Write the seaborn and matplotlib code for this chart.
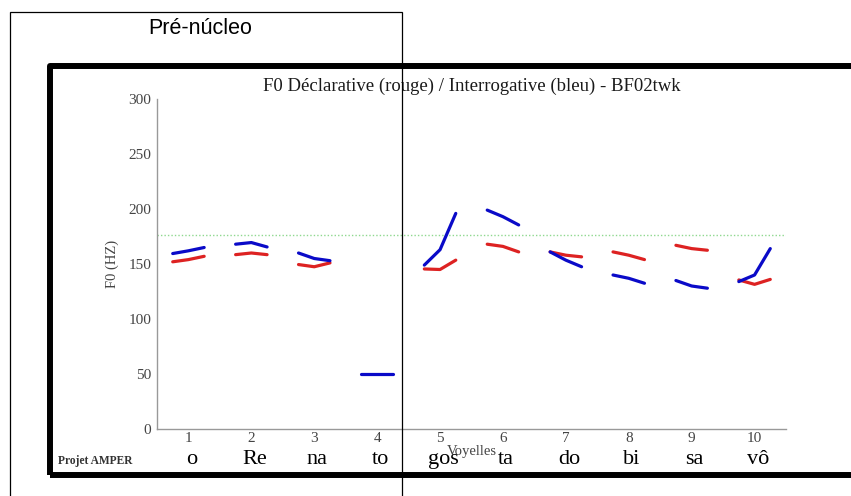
import numpy as np
import pandas as pd
import matplotlib
matplotlib.use("Agg")
import matplotlib.pyplot as plt
from matplotlib.patches import Rectangle
import seaborn as sns

# F0 contours per vowel, three samples each (start / middle / end of the vowel)
vowels = [1, 2, 3, 4, 5, 6, 7, 8, 9, 10]
syllables = ["o", "Re", "na", "to", "gos", "ta", "do", "bi", "sa", "vô"]
sample_offsets = [-0.25, 0.0, 0.25]

f0_declarative = [
    [152, 154, 157],
    [158.5, 160, 158.5],
    [149.5, 147.5, 151],
    None,
    [145.5, 145, 153.5],
    [168, 166, 161],
    [161, 158, 156.5],
    [161, 158, 154],
    [167, 164, 162.5],
    [135.5, 131.5, 136],
]
f0_interrogative = [
    [159.5, 162, 165],
    [168, 169.5, 165.5],
    [160, 155, 153],
    [50, 50, 50],
    [149, 163, 196],
    [199, 193, 185.5],
    [161, 153.5, 147.5],
    [140, 137, 132.5],
    [135, 130, 128],
    [134, 140, 164],
]
reference_f0 = 176
yticks = [0, 50, 100, 150, 200, 250, 300]

# long format table for seaborn
rows = []
for label, series in [("Déclarative", f0_declarative), ("Interrogative", f0_interrogative)]:
    for v, vals in zip(vowels, series):
        if vals is None:
            continue
        for off, f in zip(sample_offsets, vals):
            rows.append({"vowel": v, "pos": v + off, "f0": f, "type": label})
df = pd.DataFrame(rows)

sns.set_theme(style="white")
plt.rcParams["font.family"] = ["Liberation Serif", "DejaVu Serif"]

W, H = 851, 496
fig = plt.figure(figsize=(W / 100, H / 100), dpi=100)
fig.patch.set_facecolor("white")

ax_left, ax_right, ax_top, ax_bottom = 157, 786, 99, 429
ax = fig.add_axes([ax_left / W, 1 - ax_bottom / H,
                   (ax_right - ax_left) / W, (ax_bottom - ax_top) / H])
ax.patch.set_alpha(0)

ax.axhline(reference_f0, color="#8fd88f", ls=(0, (1, 1.5)), lw=1, zorder=1)

sns.lineplot(data=df, x="pos", y="f0", hue="type", units="vowel", estimator=None,
             palette={"Déclarative": "#dd2222", "Interrogative": "#0a0ac8"},
             hue_order=["Déclarative", "Interrogative"],
             sort=False, linewidth=2.3, legend=False, ax=ax, zorder=3)

ax.set_xlim(0.5, 10.5)
ax.set_ylim(0, 300)
ax.set_xticks(vowels)
ax.set_yticks(yticks)
for s in ["top", "right"]:
    ax.spines[s].set_visible(False)
for s in ["left", "bottom"]:
    ax.spines[s].set_color("#999999")
    ax.spines[s].set_linewidth(1)
ax.tick_params(direction="in", length=4, width=0.8, color="#777777",
               labelcolor="#444444", labelsize=11)
ax.tick_params(axis="x", pad=2)
ax.tick_params(axis="y", pad=4)

ax.set_title("F0 Déclarative (rouge) / Interrogative (bleu) - BF02twk",
             fontsize=13.5, color="#1a1a1a", pad=6)
ax.set_xlabel("Voyelles", fontsize=10.5, color="#444444")
ax.xaxis.set_label_coords(0.5, (ax_bottom - 451) / (ax_bottom - ax_top))
ax.xaxis.label.set_va("center")
ax.set_ylabel("F0 (HZ)", fontsize=10.5, color="#444444")
ax.yaxis.set_label_coords((112 - ax_left) / (ax_right - ax_left), 0.5)
ax.yaxis.label.set_va("center")

# syllable labels under the vowel numbers
for v, syl in zip(vowels, syllables):
    ax.text(v + 0.05, (ax_bottom - 464) / (ax_bottom - ax_top), syl,
            transform=ax.get_xaxis_transform(), ha="center", va="baseline",
            fontsize=16, color="black", zorder=5)

fig.text(58 / W, 1 - 461 / H, "Projet AMPER", ha="left", va="center",
         fontsize=8.3, fontweight="bold", color="#333333")

# thick frame around the chart image
fig.patches.append(Rectangle((50 / W, 1 - 475 / H), (880 - 50) / W, (475 - 65.5) / H,
                             transform=fig.transFigure, fill=False, lw=4.3,
                             ec="black", joinstyle="round", zorder=4))
# thin box of the "Pré-núcleo" region
fig.patches.append(Rectangle((10 / W, -0.05), (402 - 10) / W, 1.05 - 12 / H,
                             transform=fig.transFigure, fill=False, lw=0.9,
                             ec="black", zorder=6))
fig.text(200 / W, 1 - 29 / H, "Pré-núcleo", ha="center", va="center",
         fontsize=15.5, family=["Liberation Sans", "DejaVu Sans"], color="black")

fig.savefig("out.png", dpi=100)
